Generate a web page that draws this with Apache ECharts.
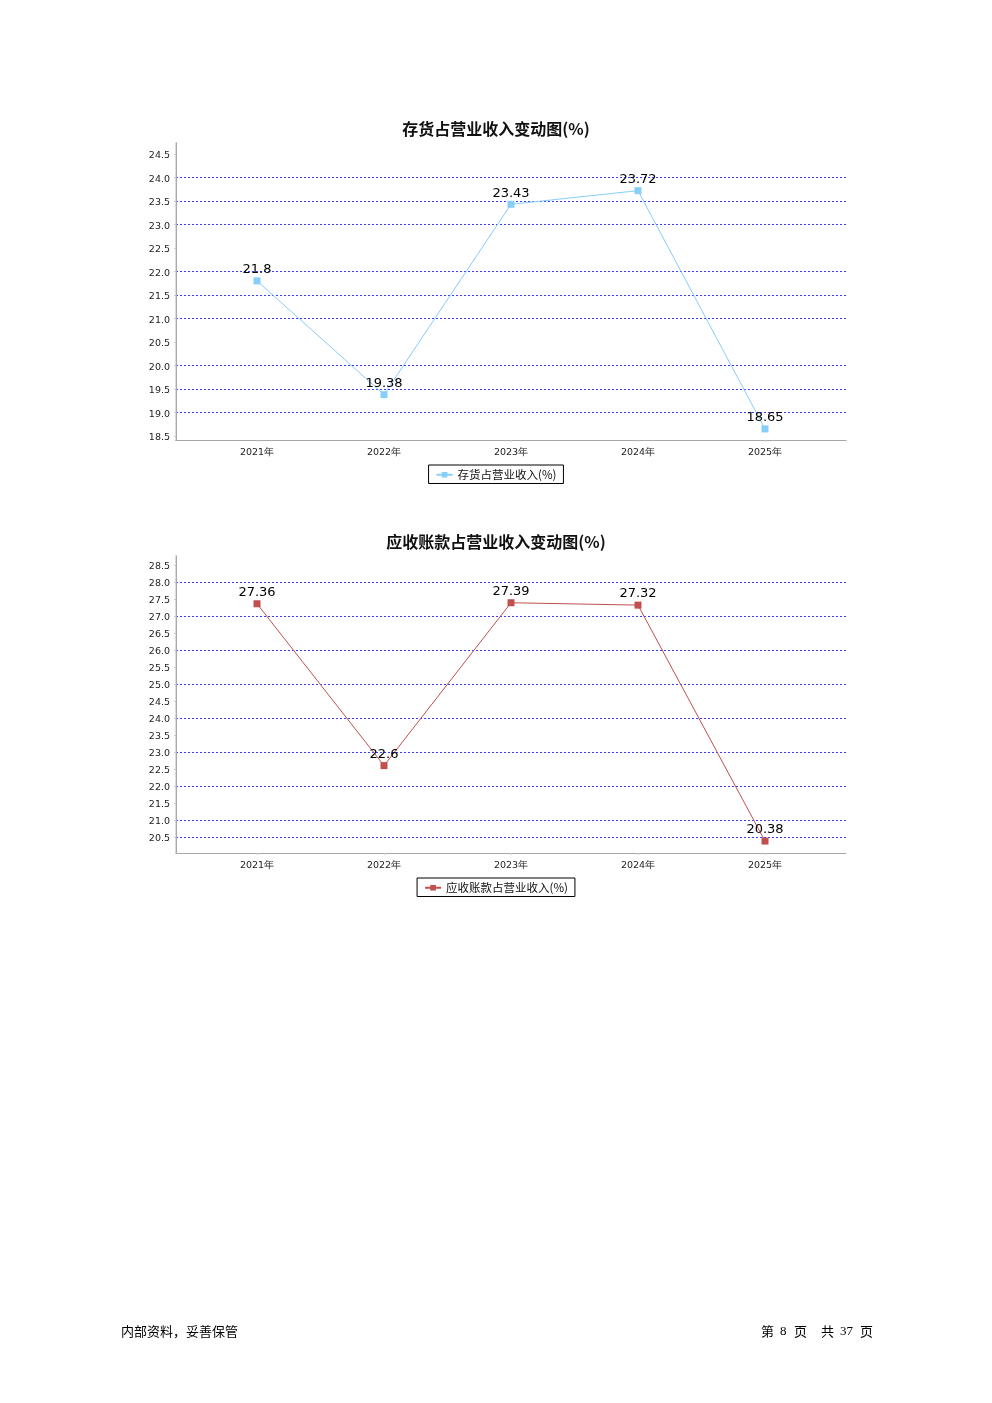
<!DOCTYPE html>
<html><head><meta charset="utf-8">
<script src="https://cdn.jsdelivr.net/npm/echarts@6/dist/echarts.min.js"></script>
<style>html,body{margin:0;padding:0;background:#fff}#c{width:992px;height:1403px}</style>
</head><body><div id="c"></div>
<script>
// ---- data ----
const categories = ['2021年', '2022年', '2023年', '2024年', '2025年'];
const inventoryRatio = [21.8, 19.38, 23.43, 23.72, 18.65];
const receivableRatio = [27.36, 22.6, 27.39, 27.32, 20.38];
const inventoryTickRange = [18.5, 24.5];
const receivableTickRange = [20.5, 28.5];
const tickStep = 0.5;
const titles = ['存货占营业收入变动图(%)', '应收账款占营业收入变动图(%)'];
const seriesNames = ['存货占营业收入(%)', '应收账款占营业收入(%)'];
const footerLeft = '内部资料，妥善保管';
const footerRight = ['第', '8', '页', '共', '37', '页'];

const chart = echarts.init(document.getElementById('c'), null, {renderer: 'canvas'});
const W = 992, H = 1403;
const labelFont = 'DejaVu Sans, sans-serif';
const blue = '#3a3aff';
const hidden = {show: false};

function buildChart(idx, cfg) {
  const gi = idx * 3;
  const pxPerUnit = (cfg.tickBottom - cfg.tickTop) / (cfg.range[1] - cfg.range[0]);
  const fullMax = cfg.range[1] + (cfg.tickTop - cfg.frameTop) / pxPerUnit;
  const fullMin = cfg.range[0] - (cfg.frameBottom - cfg.tickBottom) / pxPerUnit;
  const grids = [
    {left: cfg.plotLeft, right: W - cfg.plotRight, top: cfg.frameTop, height: cfg.frameBottom - cfg.frameTop},
    {left: cfg.plotLeft, right: W - cfg.plotRight, top: cfg.tickTop, height: cfg.tickBottom - cfg.tickTop},
    {left: cfg.catLeft, right: W - cfg.catRight, top: cfg.frameTop, height: cfg.frameBottom - cfg.frameTop}
  ];
  const xAxes = [
    {gridIndex: gi, type: 'value', position: 'bottom', min: 0, max: 1, axisLabel: hidden, axisTick: hidden, splitLine: hidden,
      axisLine: {show: true, lineStyle: {color: '#a8a8a8', width: 1}}},
    {gridIndex: gi, type: 'value', position: 'top', min: 0, max: 1, axisLabel: hidden, axisTick: hidden, splitLine: hidden,
      axisLine: {show: cfg.topBorder, lineStyle: {color: '#a8a8a8', width: 1}}},
    {gridIndex: gi + 1, type: 'value', min: 0, max: 1, show: false},
    {gridIndex: gi + 2, type: 'category', data: categories, boundaryGap: false, position: 'bottom',
      axisLine: hidden, splitLine: hidden,
      axisTick: {show: true, length: 2, lineStyle: {color: '#cccccc'}},
      axisLabel: {show: true, fontSize: 9.5, color: '#222', fontFamily: labelFont, margin: 8}}
  ];
  const yAxes = [
    {gridIndex: gi, type: 'value', position: 'left', min: 0, max: 1, axisLabel: hidden, axisTick: hidden, splitLine: hidden,
      axisLine: {show: true, lineStyle: {color: '#dcdcdc', width: 2}}},
    {gridIndex: gi, type: 'value', position: 'right', min: 0, max: 1, axisLabel: hidden, axisTick: hidden, splitLine: hidden,
      axisLine: {show: true, lineStyle: {color: '#a8a8a8', width: 1}}},
    {gridIndex: gi + 1, type: 'value', min: cfg.range[0], max: cfg.range[1], interval: tickStep,
      axisLine: hidden,
      axisTick: {show: true, length: 2, lineStyle: {color: '#cccccc'}},
      axisLabel: {color: '#222', margin: 6, formatter: v => '{n|' + v.toFixed(1) + '}',
        rich: {n: {fontSize: 9.5, color: '#222', fontFamily: labelFont, padding: [4, 0, 0, 0]}}},
      splitLine: {show: true, lineStyle: {color: cfg.gridColors, width: 1, type: [2, 2]}}},
    {gridIndex: gi + 2, type: 'value', min: fullMin, max: fullMax, show: false}
  ];
  return {grids, xAxes, yAxes};
}

const T = 'rgba(0,0,0,0)';
const c1 = buildChart(0, {
  frameTop: 143, frameBottom: 440, tickTop: 154, tickBottom: 436, range: inventoryTickRange,
  plotLeft: 176, plotRight: 846, catLeft: 257, catRight: 765, topBorder: true,
  gridColors: [T, blue, blue, blue]
});
const c2 = buildChart(1, {
  frameTop: 556, frameBottom: 853, tickTop: 565, tickBottom: 837, range: receivableTickRange,
  plotLeft: 176, plotRight: 846, catLeft: 257, catRight: 765, topBorder: false,
  gridColors: [blue, blue, T, blue, T, blue, T, blue, T, blue, T, blue, T, blue, T, blue, T]
});

function lineSeries(name, data, color, base) {
  return {
    name, type: 'line', data,
    xAxisIndex: base + 3, yAxisIndex: base + 3,
    symbol: 'rect', symbolSize: 7, showAllSymbol: true,
    lineStyle: {color, width: 1},
    itemStyle: {color},
    label: {show: true, position: 'top', distance: 1, fontSize: 13, color: '#000', fontFamily: labelFont},
    animation: false
  };
}

const legendBase = {left: 'center', borderColor: '#000', borderWidth: 1, borderRadius: 0,
  padding: [4, 7, 3, 7], itemWidth: 16, itemHeight: 7, itemGap: 4,
  textStyle: {fontSize: 11.5, color: '#111', fontFamily: 'Noto Sans CJK SC'}};

const footerX = [761, 780, 794, 821, 840, 860];

const option = {
  animation: false,
  backgroundColor: '#fff',
  title: [
    {text: titles[0], left: 'center', top: 116, textStyle: {fontSize: 16, fontWeight: 'bold', color: '#111', fontFamily: 'Noto Sans CJK SC'}},
    {text: titles[1], left: 'center', top: 529, textStyle: {fontSize: 16, fontWeight: 'bold', color: '#111', fontFamily: 'Noto Sans CJK SC'}}
  ],
  legend: [
    Object.assign({}, legendBase, {data: [seriesNames[0]], top: 465}),
    Object.assign({}, legendBase, {data: [seriesNames[1]], top: 878})
  ],
  grid: [...c1.grids, ...c2.grids],
  xAxis: [...c1.xAxes, ...c2.xAxes],
  yAxis: [...c1.yAxes, ...c2.yAxes],
  series: [
    lineSeries(seriesNames[0], inventoryRatio, '#87cefa', 0),
    lineSeries(seriesNames[1], receivableRatio, '#c0504d', 4)
  ],
  graphic: [
    {type: 'text', left: 121, top: 1325, style: {text: footerLeft, fontSize: 13, fill: '#000', fontFamily: 'Noto Sans CJK SC'}},
    ...footerRight.map((t, i) => ({type: 'text', left: footerX[i], top: 1325,
      style: {text: t, fontSize: 13, fill: '#000', fontFamily: /\d/.test(t) ? 'Liberation Serif' : 'Noto Sans CJK SC'}}))
  ]
};
chart.setOption(option);
</script></body></html>
